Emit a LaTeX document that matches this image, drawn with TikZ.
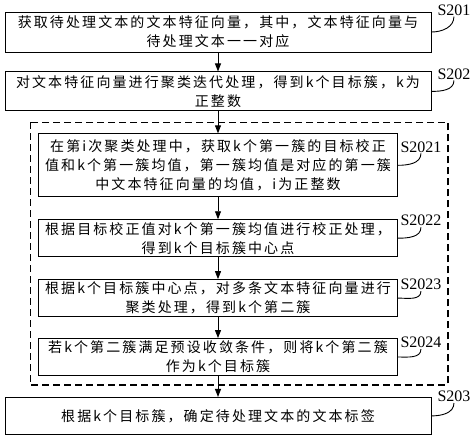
\documentclass[tikz,border=0pt]{standalone}
\usepackage{fontspec}
\setmainfont{Liberation Serif}
\newfontfamily\cjk[LetterSpace=15]{Noto Sans CJK SC}
\usetikzlibrary{positioning,calc,arrows.meta}

\begin{document}
\begin{tikzpicture}[
    x=1pt, y=1pt,
    node distance=21pt,
    stepbox/.style={draw, line width=0.9pt, align=center, inner sep=2pt,
                    font=\cjk\fontsize{14}{19}\selectfont},
    outerbox/.style={stepbox, minimum width=426pt, minimum height=39pt},
    innerbox/.style={stepbox, minimum width=359pt, minimum height=37pt},
    steptag/.style={font=\fontsize{16}{16}\selectfont, inner sep=1pt},
    flow/.style={-{Triangle[length=8pt,width=6pt]}, line width=0.9pt},
    tagline/.style={line width=0.9pt},
    loopline/.style={line width=1.1pt, dash pattern=on 7pt off 4pt},
  ]
  \useasboundingbox (0,0) rectangle (474,-434);

  % main steps
  \node[outerbox, minimum height=40pt] (b1) at (218,-32)
    {获取待处理文本的文本特征向量，其中，文本特征向量与\\待处理文本一一对应};
  \node[outerbox, below=19pt of b1] (b2)
    {对文本特征向量进行聚类迭代处理，得到k个目标簇，k为\\正整数};

  % iteration
  \node[innerbox, minimum height=63pt, below=22pt of b2] (in1)
    {在第i次聚类处理中，获取k个第一簇的目标校正\\值和k个第一簇均值，第一簇均值是对应的第一簇\\中文本特征向量的均值，i为正整数};
  \node[innerbox, below=22pt of in1] (in2)
    {根据目标校正值对k个第一簇均值进行校正处理，\\得到k个目标簇中心点};
  \node[innerbox, below=22pt of in2] (in3)
    {根据k个目标簇中心点，对多条文本特征向量进行\\聚类处理，得到k个第二簇};
  \node[innerbox, below=21pt of in3] (in4)
    {若k个第二簇满足预设收敛条件，则将k个第二簇\\作为k个目标簇};
  \draw[loopline] ($(in1.north west)+(-8,11)$) rectangle ($(in4.south east)+(50,-9)$);

  \node[outerbox, minimum height=37pt, below=21pt of in4] (b5)
    {根据k个目标簇，确定待处理文本的文本标签};

  % arrows
  \draw[flow] (b1.south) -- (b2.north);
  \draw[flow] (b2.south) -- (in1.north);
  \draw[flow] (in1.south) -- (in2.north);
  \draw[flow] (in2.south) -- (in3.north);
  \draw[flow] (in3.south) -- (in4.north);
  \draw[flow] (in4.south) -- (b5.north);

  % step numbers
  \node[steptag] (t201) at ($(b1.east)+(22.5,22)$) {S201};
  \node[steptag] (t202) at ($(b2.east)+(22.5,17.5)$) {S202};
  \node[steptag] (t2021) at ($(in1.east)+(23,18.5)$) {S2021};
  \node[steptag] (t2022) at ($(in2.east)+(23,17.5)$) {S2022};
  \node[steptag] (t2023) at ($(in3.east)+(23,13.5)$) {S2023};
  \node[steptag] (t2024) at ($(in4.east)+(23,14.5)$) {S2024};
  \node[steptag] (t203) at ($(b5.east)+(22.5,19.5)$) {S203};
  \draw[tagline] (b1.east) to[out=0, in=-90] (t201.south);
  \draw[tagline] (b2.east) to[out=0, in=-90] (t202.south);
  \draw[tagline] (in1.east) to[out=0, in=-90] (t2021.south);
  \draw[tagline] (in2.east) to[out=0, in=-90] (t2022.south);
  \draw[tagline] (in3.east) to[out=0, in=-90] (t2023.south);
  \draw[tagline] (in4.east) to[out=0, in=-90] (t2024.south);
  \draw[tagline] (b5.east) to[out=0, in=-90] (t203.south);
\end{tikzpicture}
\end{document}
